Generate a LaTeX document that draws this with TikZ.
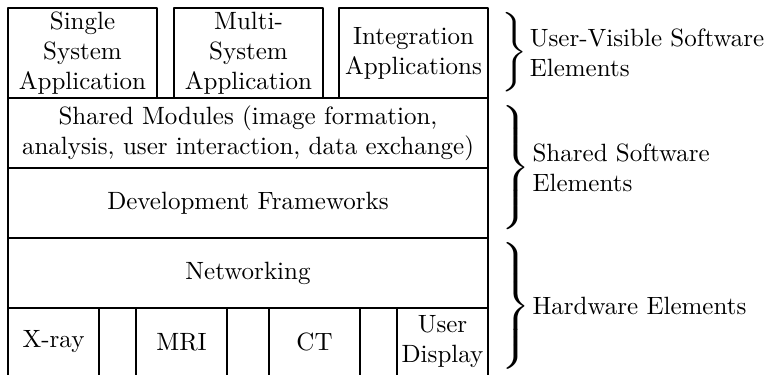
\documentclass[tikz,border=0pt]{standalone}
\usetikzlibrary{positioning}

\tikzset{
  appbox/.style={draw, line width=0.6pt, minimum width=59.6pt, minimum height=36pt, inner sep=0pt, align=center},
  layerbox/.style={draw, line width=0.6pt, minimum width=192pt, minimum height=28pt, inner sep=0pt, align=center},
  hwbox/.style={draw, line width=0.6pt, minimum width=36.4pt, minimum height=27.2pt, inner sep=0pt, align=center},
  bracebox/.style={inner sep=0pt, anchor=west},
  bracelabel/.style={right=0.5pt of #1, align=left, inner sep=0pt}
}
% brace: height, vertical stretch
\newcommand{\groupbrace}[2]{\scalebox{1.3}[#2]{$\left.\vcenter{\hbox{\rule{0pt}{#1}}}\right\}$}}

\begin{document}
\begin{tikzpicture}[line cap=round,line join=round,x=0.4pt,y=-0.4pt]
\useasboundingbox (0,0) rectangle (770,374);
\clip (0,0) rectangle (770,374);
% applications
\node[appbox] (single) at (82.5,53) {Single\\System\\Application};
\node[appbox] (multi) at (248.5,53) {Multi-\\System\\Application};
\node[appbox] (integ) at (413.5,53) {Integration\\Applications};
%
\node[layerbox] (shared) at (248,133) {Shared Modules (image formation,\\analysis, user interaction, data exchange)};
\node[layerbox] (devfw) at (248,203) {Development Frameworks};
\node[layerbox] (netw) at (248,273) {Networking};
% hardware
\node[hwbox] (xray) at (53.5,342) {X-ray};
\node[hwbox] (mri) at (181.5,342) {MRI};
\node[hwbox] (ct) at (314.5,342) {CT};
\node[hwbox] (disp) at (442.5,342) {User\\Display};
% braces
\node[bracebox] (brUser) at (497,52.5) {\groupbrace{31pt}{1.06}};
\node[bracelabel=brUser] (lblUser) {User-Visible Software\\Elements};
\node[bracebox] (brShared) at (497,167.5) {\groupbrace{51pt}{1.03}};
\node[bracelabel=brShared] (lblShared) {Shared Software\\Elements};
\node[bracebox] (brHw) at (497,306) {\groupbrace{51pt}{1.06}};
\node[bracelabel=brHw] (lblHw) {Hardware Elements};
\end{tikzpicture}
\end{document}
